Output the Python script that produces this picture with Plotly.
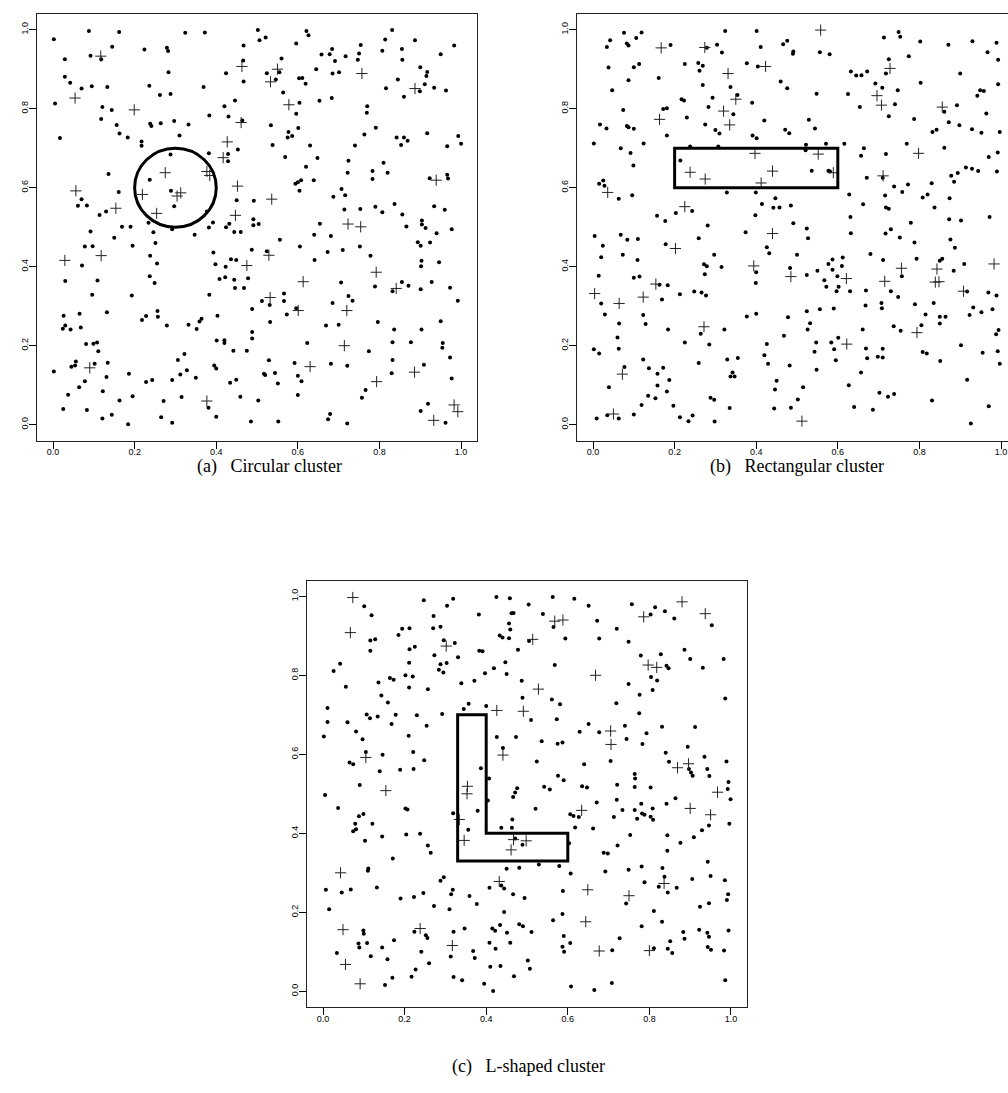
import plotly.graph_objects as go

# ---------------- data ----------------
# Panel (a) circular cluster
a_dot_x = [0.002,0.088,0.162,0.324,0.372,0.029,0.092,0.118,0.145,0.224,0.279,0.282,0.467,0.466,0.283,0.424,0.467,0.029,0.042,0.070,0.095,0.133,0.236,0.369,0.262,0.288,0.005,0.446,0.121,0.144,0.420,0.118,0.383,0.430,0.464,0.156,0.238,0.241,0.264,0.297,0.332,0.017,0.163,0.183,0.310,0.217,0.217,0.453,0.382,0.288,0.429,0.429,0.136,0.237,0.161,0.289,0.070,0.297,0.450,0.061,0.083,0.130,0.114,0.377,
 0.502,0.506,0.521,0.621,0.626,0.596,0.831,0.814,0.887,0.983,0.754,0.684,0.678,0.658,0.691,0.717,0.750,0.747,0.807,0.855,0.856,0.950,0.560,0.524,0.555,0.546,0.603,0.611,0.619,0.645,0.685,0.701,0.900,0.917,0.915,0.845,0.816,0.899,0.911,0.934,0.963,0.564,0.604,0.653,0.683,0.860,0.770,0.769,0.596,0.534,0.577,0.575,0.586,0.601,0.791,0.763,0.538,0.630,0.740,0.842,0.860,0.869,0.853,0.917,0.966,0.993,1.000,0.569,0.648,0.724,0.810,0.620,0.722,0.783,0.820,0.594,0.600,0.608,0.639,0.604,0.783,0.923,0.966,0.968,0.492,0.707,0.687,0.716,0.714,0.753,0.790,0.807,0.837,0.856,0.934,0.960,0.491,
 0.234,0.292,0.169,0.190,0.382,0.392,0.424,0.432,0.444,0.460,0.092,0.150,0.246,0.251,0.347,0.078,0.097,0.195,0.238,0.255,0.071,0.393,0.398,0.423,0.436,0.449,0.030,0.109,0.237,0.249,0.408,0.422,0.444,0.478,0.446,0.468,0.096,0.193,0.383,0.132,0.065,0.026,0.218,0.228,0.256,0.257,0.403,0.030,0.024,0.043,0.068,0.279,0.332,0.352,0.359,0.364,0.401,0.420,0.420,0.442,0.475,0.081,0.099,0.108,0.111,0.002,0.045,0.054,0.056,0.102,0.134,0.131,0.078,0.064,0.037,0.122,0.186,0.195,0.163,0.228,0.243,0.292,0.306,0.322,0.312,0.328,0.350,0.315,0.271,0.395,0.400,0.434,0.449,0.459,0.381,0.025,0.083,0.121,0.144,0.184,0.265,0.292,0.400,
 0.491,0.504,0.654,0.866,0.904,0.904,0.913,0.977,0.940,0.556,0.640,0.681,0.605,0.487,0.524,0.673,0.710,0.752,0.778,0.894,0.901,0.924,0.641,0.903,0.902,0.946,0.706,0.789,0.832,0.855,0.871,0.901,0.928,0.973,0.992,0.566,0.566,0.512,0.531,0.685,0.724,0.734,0.596,0.573,0.488,0.532,0.669,0.700,0.796,0.836,0.903,0.950,0.488,0.488,0.623,0.774,0.832,0.877,0.955,0.954,0.973,0.529,0.592,0.681,0.721,0.832,0.909,0.517,0.520,0.544,0.551,0.600,0.609,0.600,0.830,0.977,0.766,0.757,0.503,0.919,0.901,0.962,0.485,0.552,0.674,0.679,0.721]
a_dot_y = [0.976,0.997,0.994,0.992,0.993,0.925,0.934,0.925,0.957,0.950,0.954,0.946,0.960,0.922,0.892,0.890,0.869,0.881,0.866,0.851,0.857,0.855,0.858,0.855,0.835,0.837,0.813,0.821,0.804,0.797,0.806,0.774,0.783,0.780,0.770,0.759,0.762,0.756,0.763,0.769,0.760,0.726,0.737,0.727,0.732,0.717,0.706,0.697,0.687,0.684,0.685,0.667,0.635,0.620,0.589,0.592,0.571,0.553,0.568,0.554,0.555,0.540,0.531,0.540,
 0.999,0.973,0.980,0.997,0.986,0.965,0.999,0.975,0.973,0.960,0.961,0.951,0.938,0.937,0.921,0.933,0.940,0.924,0.947,0.951,0.924,0.938,0.927,0.890,0.892,0.874,0.877,0.878,0.863,0.900,0.889,0.892,0.905,0.893,0.883,0.874,0.852,0.844,0.862,0.853,0.846,0.841,0.815,0.820,0.827,0.830,0.806,0.790,0.787,0.758,0.741,0.727,0.731,0.751,0.752,0.735,0.708,0.707,0.707,0.727,0.727,0.719,0.708,0.738,0.705,0.731,0.711,0.678,0.675,0.668,0.663,0.653,0.638,0.642,0.638,0.610,0.614,0.619,0.619,0.592,0.622,0.624,0.633,0.623,0.567,0.597,0.577,0.581,0.545,0.546,0.552,0.538,0.559,0.532,0.553,0.544,0.520,
 0.511,0.495,0.501,0.501,0.499,0.512,0.500,0.509,0.488,0.488,0.489,0.473,0.487,0.460,0.481,0.451,0.452,0.453,0.428,0.408,0.403,0.436,0.406,0.400,0.419,0.417,0.364,0.365,0.376,0.359,0.369,0.373,0.367,0.371,0.346,0.346,0.329,0.327,0.329,0.285,0.281,0.276,0.265,0.275,0.288,0.273,0.276,0.251,0.243,0.241,0.246,0.251,0.253,0.242,0.261,0.268,0.213,0.214,0.207,0.187,0.187,0.204,0.205,0.208,0.186,0.135,0.147,0.150,0.160,0.154,0.157,0.121,0.110,0.095,0.076,0.085,0.129,0.072,0.061,0.108,0.113,0.113,0.164,0.179,0.127,0.138,0.119,0.070,0.060,0.150,0.142,0.106,0.114,0.071,0.043,0.040,0.037,0.016,0.025,0.001,0.019,0.005,0.020,
 0.505,0.508,0.509,0.502,0.517,0.507,0.498,0.495,0.485,0.468,0.481,0.478,0.451,0.443,0.439,0.437,0.442,0.451,0.428,0.462,0.453,0.461,0.417,0.415,0.401,0.411,0.360,0.350,0.338,0.361,0.352,0.343,0.361,0.347,0.314,0.332,0.313,0.313,0.303,0.308,0.326,0.314,0.295,0.279,0.293,0.260,0.251,0.253,0.260,0.241,0.241,0.262,0.235,0.218,0.207,0.186,0.209,0.209,0.207,0.195,0.170,0.163,0.156,0.154,0.149,0.164,0.152,0.129,0.126,0.131,0.104,0.124,0.110,0.075,0.130,0.117,0.088,0.068,0.061,0.053,0.035,0.005,0.008,0.008,0.014,0.027,0.003]
a_plus_x = [0.117,0.463,0.054,0.199,0.461,0.427,0.417,0.275,0.377,0.384,0.452,0.056,0.219,0.313,0.304,0.154,0.254,0.447,
 0.550,0.533,0.757,0.887,0.578,0.939,0.536,
 0.118,0.029,0.475,0.090,0.377,
 0.723,0.754,0.529,0.792,0.613,0.841,0.532,0.720,0.601,0.714,0.630,0.886,0.793,0.983,0.992,0.933]
a_plus_y = [0.933,0.907,0.827,0.797,0.765,0.716,0.676,0.638,0.641,0.631,0.604,0.592,0.583,0.587,0.579,0.548,0.535,0.530,
 0.900,0.868,0.889,0.851,0.810,0.619,0.571,
 0.428,0.416,0.403,0.144,0.060,
 0.508,0.501,0.429,0.386,0.362,0.345,0.322,0.289,0.289,0.200,0.147,0.133,0.109,0.050,0.033,0.011]

# Panel (b) rectangular cluster
b_dot_x = [0.076,0.042,0.034,0.083,0.087,0.106,0.119,0.324,0.401,0.190,0.279,0.304,0.316,0.411,0.038,0.100,0.113,0.225,0.258,0.269,0.261,0.377,0.404,0.087,0.161,0.269,0.337,0.047,0.217,0.223,0.293,0.354,0.283,0.390,0.074,0.172,0.181,0.344,0.230,0.420,0.017,0.033,0.083,0.087,0.100,0.275,0.300,0.310,0.181,0.391,0.401,0.002,0.124,0.068,0.092,0.238,0.307,0.214,0.099,0.025,0.015,0.028,0.063,0.096,0.328,0.399,0.414,0.442,0.457,0.447,0.398,0.157,0.203,0.243,
 0.466,0.476,0.491,0.490,0.556,0.580,0.713,0.749,0.753,0.802,0.871,0.930,0.989,0.967,0.993,0.774,0.725,0.718,0.632,0.645,0.658,0.672,0.900,0.460,0.476,0.692,0.709,0.747,0.803,0.949,0.958,0.993,0.942,0.548,0.625,0.740,0.654,0.861,0.892,0.964,0.725,0.787,0.529,0.872,0.898,0.929,0.952,0.997,0.471,0.481,0.544,0.832,0.842,0.769,0.522,0.521,0.571,0.616,0.664,0.657,0.718,0.861,0.970,0.992,0.536,0.577,0.581,0.671,0.710,0.914,0.929,0.944,0.894,0.878,0.885,0.990,0.830,0.738,0.772,0.758,0.628,0.716,0.808,0.820,0.874,0.662,0.718,0.725,0.837,0.485,0.631,0.873,0.972,
 0.177,0.281,0.004,0.068,0.084,0.110,0.024,0.178,0.259,0.374,0.020,0.073,0.109,0.297,0.272,0.279,0.315,0.426,0.432,0.400,0.399,0.014,0.100,0.114,0.274,0.163,0.183,0.020,0.169,0.213,0.248,0.266,0.277,0.029,0.123,0.129,0.064,0.377,0.400,0.184,0.264,0.322,0.060,0.225,0.285,0.002,0.015,0.063,0.123,0.077,0.137,0.172,0.158,0.187,0.158,0.181,0.259,0.329,0.355,0.342,0.337,0.347,0.420,0.426,0.429,0.450,0.446,0.039,0.135,0.153,0.119,0.100,0.197,0.288,0.297,0.335,0.444,0.009,0.035,0.063,0.213,0.234,0.244,0.298,
 0.491,0.524,0.527,0.632,0.717,0.730,0.752,0.779,0.902,0.788,0.876,0.887,0.500,0.483,0.524,0.550,0.567,0.572,0.577,0.587,0.587,0.599,0.602,0.597,0.612,0.610,0.630,0.680,0.711,0.757,0.669,0.730,0.748,0.793,0.850,0.856,0.884,0.910,0.917,0.969,0.989,0.478,0.524,0.556,0.590,0.532,0.526,0.468,0.668,0.707,0.708,0.661,0.737,0.754,0.789,0.815,0.805,0.835,0.850,0.864,0.850,0.932,0.923,0.952,0.979,0.994,0.988,0.547,0.543,0.584,0.601,0.591,0.595,0.669,0.672,0.698,0.710,0.710,0.657,0.808,0.818,0.851,0.902,0.955,0.992,0.997,0.482,0.548,0.515,0.502,0.485,0.627,0.640,0.686,0.702,0.723,0.738,0.831,0.917,0.970,0.926]
b_dot_y = [0.992,0.973,0.956,0.965,0.960,0.979,0.993,0.997,0.997,0.961,0.954,0.962,0.942,0.956,0.904,0.905,0.913,0.913,0.916,0.909,0.896,0.915,0.907,0.872,0.878,0.860,0.855,0.847,0.824,0.821,0.828,0.835,0.804,0.815,0.797,0.799,0.801,0.786,0.778,0.770,0.760,0.750,0.756,0.753,0.749,0.760,0.746,0.737,0.732,0.732,0.725,0.712,0.712,0.700,0.688,0.704,0.704,0.669,0.656,0.618,0.610,0.605,0.572,0.581,0.588,0.588,0.559,0.549,0.550,0.573,0.530,0.529,0.536,0.541,
 0.963,0.972,0.945,0.939,0.943,0.938,0.980,0.994,0.982,0.970,0.962,0.971,0.967,0.943,0.924,0.933,0.925,0.889,0.894,0.884,0.885,0.894,0.889,0.869,0.852,0.864,0.853,0.847,0.866,0.847,0.845,0.862,0.833,0.838,0.837,0.811,0.804,0.792,0.809,0.788,0.781,0.774,0.772,0.766,0.758,0.748,0.739,0.741,0.747,0.738,0.750,0.741,0.747,0.711,0.709,0.695,0.711,0.711,0.700,0.681,0.685,0.701,0.678,0.689,0.643,0.643,0.641,0.625,0.625,0.651,0.648,0.642,0.637,0.630,0.615,0.641,0.611,0.603,0.608,0.589,0.583,0.580,0.575,0.583,0.573,0.558,0.550,0.547,0.550,0.555,0.526,0.520,0.526,
 0.516,0.504,0.478,0.481,0.468,0.470,0.453,0.457,0.472,0.487,0.424,0.430,0.417,0.430,0.406,0.401,0.399,0.449,0.434,0.386,0.359,0.377,0.372,0.375,0.381,0.354,0.353,0.307,0.317,0.330,0.337,0.335,0.327,0.279,0.278,0.255,0.256,0.274,0.281,0.241,0.230,0.241,0.221,0.208,0.203,0.191,0.180,0.192,0.165,0.146,0.143,0.144,0.129,0.113,0.099,0.084,0.156,0.165,0.169,0.132,0.122,0.122,0.176,0.204,0.154,0.111,0.089,0.095,0.073,0.067,0.050,0.026,0.048,0.068,0.063,0.042,0.041,0.016,0.024,0.016,0.019,0.009,0.023,0.008,
 0.510,0.497,0.472,0.485,0.484,0.495,0.474,0.511,0.517,0.461,0.469,0.448,0.430,0.397,0.379,0.390,0.366,0.349,0.407,0.418,0.392,0.376,0.349,0.338,0.423,0.402,0.338,0.432,0.417,0.376,0.340,0.338,0.323,0.420,0.415,0.420,0.390,0.407,0.337,0.335,0.327,0.272,0.287,0.292,0.294,0.257,0.241,0.225,0.302,0.308,0.295,0.241,0.249,0.238,0.305,0.279,0.252,0.308,0.273,0.273,0.256,0.297,0.278,0.285,0.292,0.240,0.229,0.208,0.185,0.208,0.220,0.191,0.163,0.193,0.168,0.172,0.192,0.170,0.132,0.184,0.180,0.161,0.201,0.182,0.186,0.154,0.150,0.139,0.095,0.064,0.043,0.100,0.045,0.038,0.081,0.071,0.078,0.061,0.114,0.047,0.003]
b_plus_x = [0.167,0.274,0.423,0.331,0.350,0.320,0.163,0.335,0.397,0.238,0.275,0.440,0.412,0.036,0.225,
 0.558,0.728,0.696,0.707,0.856,0.552,0.798,0.589,0.711,
 0.202,0.440,0.394,0.154,0.004,0.064,0.123,0.272,0.072,0.050,
 0.485,0.621,0.756,0.715,0.843,0.839,0.848,0.983,0.908,0.794,0.622,0.512]
b_plus_y = [0.954,0.955,0.907,0.889,0.824,0.794,0.773,0.759,0.687,0.639,0.622,0.642,0.612,0.588,0.552,
 0.999,0.902,0.833,0.809,0.804,0.685,0.687,0.638,0.630,
 0.446,0.484,0.402,0.356,0.332,0.307,0.323,0.248,0.128,0.027,
 0.375,0.370,0.396,0.363,0.394,0.361,0.362,0.407,0.338,0.233,0.204,0.009]

# Panel (c) L-shaped cluster
c_dot_x = [0.101,0.119,0.247,0.319,0.304,0.271,0.382,0.425,0.458,0.462,0.467,0.456,0.459,0.433,0.440,0.456,0.194,0.212,0.270,0.288,0.185,0.116,0.128,0.296,0.323,0.116,0.212,0.225,0.383,0.391,0.478,0.273,0.331,0.042,0.026,0.211,0.288,0.303,0.284,0.295,0.447,0.419,0.397,0.450,0.056,0.136,0.164,0.173,0.202,0.220,0.211,0.257,0.339,0.371,0.143,0.159,0.011,0.345,0.357,0.400,0.011,0.060,0.107,0.115,0.134,0.178,0.168,0.230,0.254,0.292,0.002,0.081,0.097,0.210,0.426,0.473,0.105,0.146,0.221,0.248,0.441,0.065,0.074,0.139,0.189,0.222,0.387,0.407,
 0.504,0.563,0.616,0.651,0.539,0.565,0.672,0.505,0.594,0.677,0.720,0.749,0.757,0.803,0.814,0.838,0.861,0.953,0.779,0.828,0.886,0.900,0.931,0.982,0.842,0.847,0.568,0.487,0.749,0.804,0.819,0.808,0.489,0.561,0.581,0.776,0.719,0.986,0.510,0.573,0.775,0.651,0.629,0.677,0.740,0.744,0.793,0.783,0.831,0.912,0.894,0.536,0.575,0.587,0.524,0.640,0.705,0.840,0.848,0.897,0.902,0.906,0.935,0.942,0.947,0.989,0.994,0.576,0.590,0.764,0.765,0.721,
 0.090,0.005,0.476,0.471,0.466,0.404,0.037,0.088,0.099,0.121,0.079,0.081,0.074,0.202,0.207,0.319,0.379,0.356,0.464,0.437,0.463,0.204,0.238,0.145,0.103,0.257,0.264,0.171,0.471,0.111,0.110,0.450,0.481,0.007,0.046,0.068,0.132,0.190,0.223,0.246,0.288,0.296,0.314,0.318,0.272,0.310,0.359,0.377,0.408,0.437,0.444,0.466,0.015,0.444,0.099,0.100,0.087,0.089,0.108,0.034,0.117,0.145,0.158,0.174,0.224,0.252,0.256,0.241,0.260,0.227,0.217,0.170,0.152,0.320,0.313,0.347,0.368,0.372,0.320,0.341,0.395,0.417,0.415,0.422,0.434,0.451,0.481,0.408,0.423,0.459,0.410,0.435,0.468,
 0.542,0.556,0.635,0.647,0.764,0.803,0.992,0.999,0.521,0.606,0.614,0.627,0.671,0.720,0.713,0.734,0.764,0.770,0.780,0.782,0.788,0.803,0.808,0.809,0.842,0.864,0.946,0.929,0.909,0.996,0.618,0.662,0.489,0.603,0.753,0.722,0.844,0.876,0.844,0.688,0.698,0.529,0.579,0.607,0.692,0.749,0.781,0.832,0.943,0.837,0.788,0.823,0.845,0.867,0.905,0.950,0.985,0.993,0.990,0.588,0.743,0.494,0.924,0.946,0.811,0.587,0.564,0.781,0.831,0.490,0.511,0.590,0.587,0.591,0.606,0.727,0.709,0.811,0.845,0.851,0.856,0.883,0.886,0.922,0.942,0.946,0.943,0.951,0.983,0.994,0.502,0.507,0.608,0.665,0.708,0.986]
c_dot_y = [0.975,0.952,0.990,0.994,0.976,0.950,0.954,0.998,0.995,0.957,0.958,0.931,0.916,0.901,0.896,0.894,0.918,0.919,0.919,0.923,0.902,0.888,0.891,0.889,0.882,0.862,0.866,0.872,0.862,0.861,0.865,0.851,0.846,0.829,0.811,0.832,0.828,0.831,0.814,0.807,0.833,0.818,0.805,0.803,0.771,0.782,0.793,0.789,0.800,0.797,0.769,0.765,0.780,0.786,0.749,0.731,0.717,0.715,0.728,0.722,0.682,0.681,0.701,0.691,0.696,0.700,0.677,0.699,0.672,0.702,0.645,0.658,0.638,0.647,0.644,0.644,0.606,0.599,0.606,0.585,0.616,0.579,0.575,0.557,0.561,0.563,0.565,0.539,
 0.979,0.998,0.994,0.976,0.955,0.922,0.938,0.887,0.893,0.893,0.918,0.885,0.980,0.954,0.972,0.962,0.944,0.927,0.850,0.853,0.865,0.841,0.819,0.841,0.824,0.818,0.826,0.786,0.778,0.796,0.787,0.763,0.743,0.739,0.727,0.751,0.729,0.741,0.687,0.689,0.704,0.677,0.657,0.656,0.672,0.639,0.653,0.626,0.670,0.669,0.619,0.633,0.627,0.630,0.582,0.575,0.583,0.604,0.581,0.563,0.554,0.546,0.594,0.563,0.545,0.582,0.530,0.546,0.534,0.550,0.539,0.523,
 0.522,0.497,0.514,0.503,0.492,0.483,0.464,0.443,0.449,0.424,0.424,0.410,0.405,0.463,0.460,0.451,0.457,0.409,0.435,0.414,0.414,0.397,0.399,0.392,0.381,0.369,0.351,0.336,0.387,0.311,0.305,0.310,0.313,0.257,0.250,0.258,0.263,0.235,0.239,0.249,0.280,0.289,0.246,0.257,0.216,0.208,0.241,0.221,0.262,0.268,0.260,0.246,0.208,0.201,0.154,0.146,0.121,0.111,0.122,0.097,0.089,0.111,0.081,0.129,0.151,0.142,0.135,0.100,0.071,0.055,0.037,0.034,0.016,0.151,0.088,0.159,0.102,0.084,0.036,0.028,0.019,0.001,0.159,0.153,0.168,0.148,0.170,0.123,0.108,0.123,0.062,0.064,0.038,
 0.518,0.511,0.519,0.516,0.517,0.516,0.512,0.486,0.462,0.448,0.444,0.441,0.478,0.485,0.441,0.459,0.459,0.437,0.475,0.450,0.447,0.442,0.463,0.434,0.475,0.489,0.420,0.408,0.390,0.424,0.415,0.412,0.371,0.375,0.396,0.369,0.395,0.376,0.356,0.351,0.349,0.321,0.317,0.298,0.303,0.308,0.316,0.312,0.328,0.290,0.276,0.265,0.250,0.262,0.284,0.292,0.281,0.246,0.231,0.254,0.222,0.236,0.214,0.223,0.203,0.196,0.180,0.165,0.176,0.165,0.150,0.140,0.113,0.100,0.122,0.134,0.104,0.109,0.108,0.127,0.097,0.150,0.133,0.156,0.148,0.138,0.112,0.105,0.103,0.154,0.078,0.057,0.012,0.003,0.021,0.028]
c_plus_x = [0.073,0.067,0.302,0.426,0.105,0.441,
 0.568,0.588,0.514,0.786,0.880,0.937,0.797,0.818,0.668,0.528,0.491,0.705,0.706,0.869,0.896,
 0.154,0.354,0.353,0.334,0.346,0.461,0.467,0.043,0.432,0.049,0.055,0.238,0.317,0.091,
 0.967,0.634,0.900,0.950,0.498,0.836,0.649,0.750,0.644,0.677,0.800]
c_plus_y = [0.997,0.908,0.874,0.711,0.592,0.598,
 0.937,0.940,0.891,0.948,0.986,0.956,0.826,0.820,0.800,0.765,0.709,0.659,0.625,0.566,0.576,
 0.508,0.519,0.500,0.435,0.382,0.358,0.384,0.300,0.278,0.156,0.068,0.159,0.116,0.019,
 0.504,0.458,0.463,0.447,0.381,0.273,0.257,0.242,0.176,0.102,0.103]

# cluster outlines (data coordinates)
circle_center = (0.3, 0.6)
circle_radius = 0.1
rect_x = [0.2, 0.6]
rect_y = [0.6, 0.7]
L_x = [0.33, 0.33, 0.40, 0.40, 0.60, 0.60, 0.33]
L_y = [0.33, 0.70, 0.70, 0.40, 0.40, 0.33, 0.33]

tick_vals = [0.0, 0.2, 0.4, 0.6, 0.8, 1.0]
tick_text = ["0.0", "0.2", "0.4", "0.6", "0.8", "1.0"]
captions = ["(a)\u2002 Circular cluster", "(b)\u2002 Rectangular cluster", "(c)\u2002 L-shaped cluster"]

# ---------------- figure ----------------
W, H = 1008, 1093
fig = go.Figure()

def add_points(xs, ys, xp, yp, xa, ya):
    fig.add_trace(go.Scatter(x=xs, y=ys, mode="markers", xaxis=xa, yaxis=ya,
                             marker=dict(symbol="circle", size=4, color="black", line=dict(width=0)),
                             showlegend=False, hoverinfo="skip"))
    fig.add_trace(go.Scatter(x=xp, y=yp, mode="markers", xaxis=xa, yaxis=ya,
                             marker=dict(symbol="cross-thin", size=8, color="#222",
                                         line=dict(width=1, color="#222")),
                             showlegend=False, hoverinfo="skip"))

add_points(a_dot_x, a_dot_y, a_plus_x, a_plus_y, "x", "y")
add_points(b_dot_x, b_dot_y, b_plus_x, b_plus_y, "x2", "y2")
add_points(c_dot_x, c_dot_y, c_plus_x, c_plus_y, "x3", "y3")

tickfont = dict(family="Liberation Sans, Arial, sans-serif", size=9, color="black")

def xaxis_cfg(domain, rng, anchor):
    return dict(domain=domain, range=rng, anchor=anchor, tickvals=tick_vals, ticktext=tick_text,
                ticks="outside", ticklen=7, tickwidth=1, tickcolor="black", ticklabelstandoff=-4,
                showline=True, linecolor="#222", linewidth=1, mirror=True,
                showgrid=False, zeroline=False, tickfont=tickfont)

def yaxis_cfg(domain, rng, anchor, mirror=True):
    return dict(domain=domain, range=rng, anchor=anchor, tickvals=tick_vals, ticktext=tick_text,
                ticks="outside", ticklen=7, tickwidth=1, tickcolor="black", tickangle=-90,
                ticklabelstandoff=-3,
                showline=True, linecolor="#222", linewidth=1, mirror=mirror,
                showgrid=False, zeroline=False, tickfont=tickfont)

fig.update_layout(
    width=W, height=H, margin=dict(l=0, r=0, t=0, b=0),
    paper_bgcolor="white", plot_bgcolor="white",
    xaxis=xaxis_cfg([36.7 / W, 477.4 / W], [-0.04, 1.04], "y"),
    yaxis=yaxis_cfg([1 - 440.5 / H, 1 - 13.9 / H], [-0.04, 1.04], "x"),
    xaxis2=xaxis_cfg([576.7 / W, 1.0], [-0.04, (1008 - 593) / 408], "y2"),
    yaxis2=yaxis_cfg([1 - 440.5 / H, 1 - 13.9 / H], [-0.04, 1.04], "x2", mirror=False),
    xaxis3=xaxis_cfg([306.7 / W, 747.3 / W], [-0.04, 1.04], "y3"),
    yaxis3=yaxis_cfg([1 - 1007.1 / H, 1 - 580.5 / H], [-0.04, 1.04], "x3"),
)

thick = dict(color="black", width=3)
cx, cy = circle_center
fig.add_shape(type="circle", xref="x", yref="y", x0=cx - circle_radius, x1=cx + circle_radius,
              y0=cy - circle_radius, y1=cy + circle_radius, line=thick)
fig.add_shape(type="rect", xref="x2", yref="y2", x0=rect_x[0], x1=rect_x[1],
              y0=rect_y[0], y1=rect_y[1], line=thick)
path = "M " + " L ".join(f"{x},{y}" for x, y in zip(L_x, L_y)) + " Z"
fig.add_shape(type="path", xref="x3", yref="y3", path=path, line=thick)

capfont = dict(family="Liberation Serif, Times New Roman, serif", size=18, color="black")
cap_pos = [(269 / W, 1 - 466 / H), (797 / W, 1 - 466 / H), (528 / W, 1 - 1066 / H)]
for txt, (px, py) in zip(captions, cap_pos):
    fig.add_annotation(text=txt, x=px, y=py, xref="paper", yref="paper", showarrow=False,
                       xanchor="center", yanchor="middle", font=capfont)

fig.write_html("out.html")
